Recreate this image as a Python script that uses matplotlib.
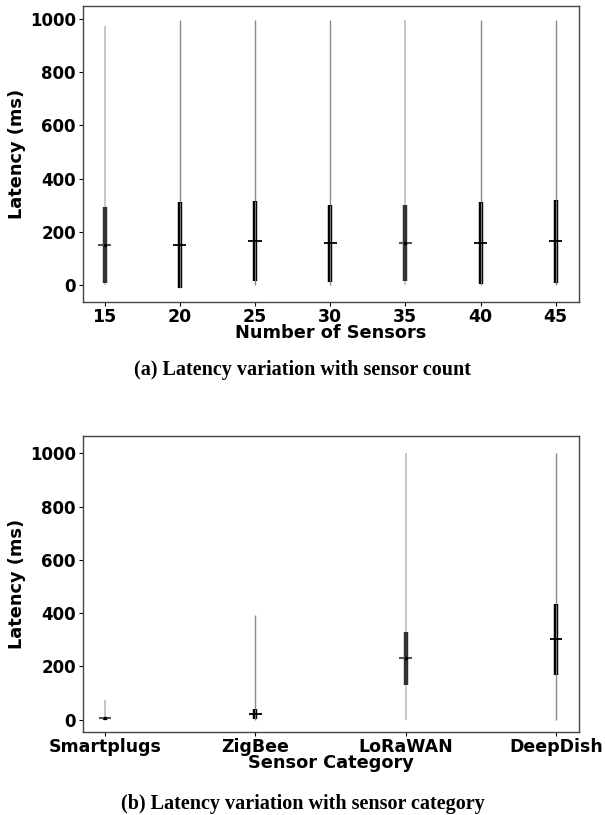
import matplotlib
matplotlib.use("Agg")
import matplotlib.pyplot as plt
import numpy as np

# Panel (a): latency vs number of sensors
sensor_counts = ["15", "20", "25", "30", "35", "40", "45"]
a_min = [0, 0, 0, 0, 0, 0, 0]
a_q1 = [9, -13, 15, 13, 15, 4, 8]
a_median = [152, 149, 167, 157, 157, 159, 164]
a_q3 = [294, 312, 317, 301, 299, 312, 319]
a_max = [975, 998, 998, 998, 998, 998, 998]
a_style = ["light", "dark", "dark", "dark", "light", "dark", "dark"]

# Panel (b): latency vs sensor category
categories = ["Smartplugs", "ZigBee", "LoRaWAN", "DeepDish"]
b_min = [0, 0, 0, 0]
b_q1 = [0, 2, 131, 169]
b_median = [4, 19, 230, 302]
b_q3 = [8, 39, 328, 434]
b_max = [75, 393, 1000, 1000]
b_style = ["light", "dark", "light", "dark"]

plt.rcParams['font.family'] = ['DejaVu Sans']

fig = plt.figure(figsize=(6.05, 8.15), dpi=100)
ax1 = fig.add_axes([0.137, 0.6294, 0.820, 0.3632])
ax2 = fig.add_axes([0.137, 0.1018, 0.820, 0.3632])


def draw(ax, labels, mn, q1, med, q3, mx, styles, half):
    x = np.arange(len(labels))
    for i in range(len(labels)):
        if styles[i] == "light":
            ax.vlines(x[i], mn[i], mx[i], color="#bdbdbd", lw=1.2, zorder=1)
            ax.vlines(x[i], q1[i], q3[i], color="#333333", lw=3.2, zorder=2)
            ax.hlines(med[i], x[i] - half, x[i] + half, color="#555555", lw=1.5, zorder=3)
            ax.plot(x[i], med[i], "s", color="black", ms=1.5, zorder=4)
        else:
            ax.vlines(x[i], mn[i], mx[i], color="#8a8a8a", lw=1.0, zorder=1)
            ax.vlines(x[i], q1[i], q3[i], color="black", lw=3.2, zorder=2)
            ax.vlines(x[i], q1[i], q3[i], color="#7a7a7a", lw=0.8, zorder=2.5)
            ax.hlines(med[i], x[i] - half, x[i] + half, color="black", lw=1.3, zorder=3)
    ax.set_xticks(x)
    ax.set_xticklabels(labels)
    ax.set_yticks([0, 200, 400, 600, 800, 1000])
    for lab in ax.get_xticklabels():
        lab.set_fontweight("bold")
        lab.set_fontsize(12.5)
    for lab in ax.get_yticklabels():
        lab.set_fontweight("bold")
        lab.set_fontsize(12)
    ax.tick_params(axis="x", length=3, pad=1)
    ax.tick_params(axis="y", length=3, pad=2)
    for s in ax.spines.values():
        s.set_color("#444444")
        s.set_linewidth(1.0)
    ax.set_ylabel("Latency (ms)", fontsize=12.8, fontweight="bold", labelpad=3)


draw(ax1, sensor_counts, a_min, a_q1, a_median, a_q3, a_max, a_style, 0.087)
ax1.set_xlim(-0.29, 6.31)
ax1.set_ylim(-64, 1049)
ax1.set_xlabel("Number of Sensors", fontsize=12.8, fontweight="bold", labelpad=-1)

draw(ax2, categories, b_min, b_q1, b_median, b_q3, b_max, b_style, 0.043)
ax2.set_xlim(-0.147, 3.153)
ax2.set_ylim(-47, 1065)
ax2.set_xlabel("Sensor Category", fontsize=12.8, fontweight="bold", labelpad=-1)

fig.text(0.5, 1 - 375 / 815, "(a) Latency variation with sensor count", ha="center",
         va="baseline", fontsize=14.5, fontweight="bold", family="Liberation Serif")
fig.text(0.5, 1 - 809 / 815, "(b) Latency variation with sensor category", ha="center",
         va="baseline", fontsize=14.5, fontweight="bold", family="Liberation Serif")

fig.savefig("out.png", dpi=100)
